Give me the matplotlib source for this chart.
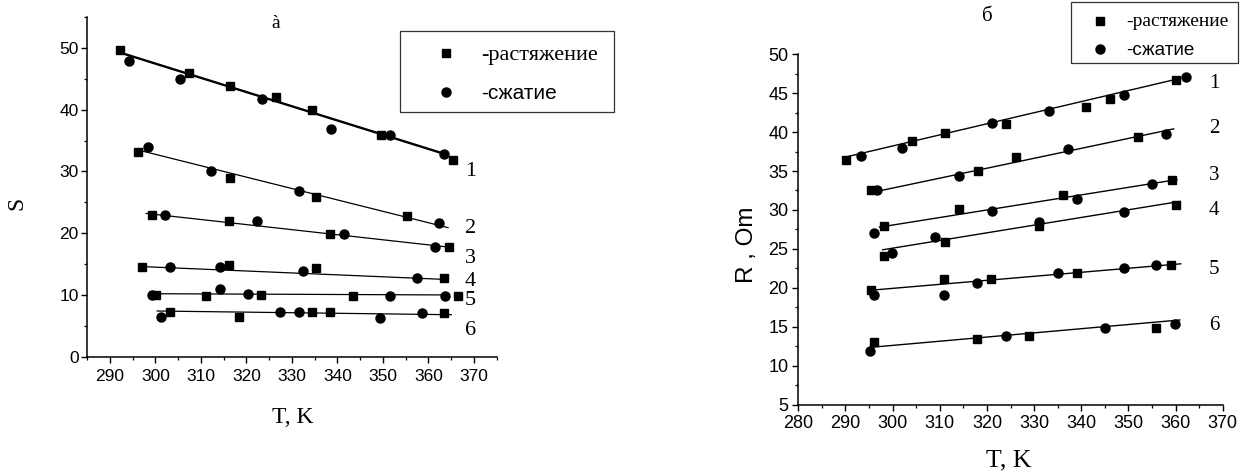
import numpy as np
import matplotlib
matplotlib.use('Agg')
from matplotlib import pyplot as plt
from matplotlib.ticker import MultipleLocator
from matplotlib.patches import Rectangle

SERIF = 'Liberation Serif'
SANS = 'Liberation Sans'

# ---- panel a: S vs T ----
a_sq_T = [[292.3, 307.4, 316.5, 326.5, 334.5, 349.6, 365.4],
          [296.2, 316.4, 335.3, 355.3],
          [299.2, 316.2, 338.4, 364.5],
          [297.1, 316.2, 335.3, 363.5],
          [300.1, 311.1, 323.2, 343.4, 366.5],
          [303.2, 318.3, 334.5, 338.3, 363.5]]
a_sq_S = [[49.6, 45.9, 43.9, 42.0, 39.9, 35.9, 31.9],
          [33.1, 28.9, 25.9, 22.8],
          [22.9, 21.9, 19.8, 17.8],
          [14.5, 14.9, 14.4, 12.8],
          [10.0, 9.8, 10.0, 9.8, 9.8],
          [7.3, 6.5, 7.2, 7.2, 7.1]]
a_ci_T = [[294.3, 305.4, 323.4, 338.5, 351.5, 363.4],
          [298.3, 312.2, 331.5, 362.4],
          [302.1, 322.4, 341.4, 361.5],
          [303.2, 314.3, 332.4, 357.4],
          [299.2, 314.3, 320.3, 351.5, 363.6],
          [301.2, 327.4, 331.5, 349.4, 358.6]]
a_ci_S = [[47.8, 44.9, 41.8, 36.9, 35.9, 32.9],
          [34.0, 30.1, 26.9, 21.7],
          [22.9, 21.9, 19.8, 17.8],
          [14.5, 14.5, 13.9, 12.8],
          [10.0, 10.9, 10.1, 9.9, 9.9],
          [6.5, 7.2, 7.2, 6.3, 7.1]]
# fitted lines (start T, end T, start S, end S)
a_fit_T0 = [292.0, 295.5, 298.0, 296.9, 299.9, 300.4]
a_fit_T1 = [364.1, 364.3, 365.0, 364.1, 364.5, 365.0]
a_fit_S0 = [49.3, 33.6, 23.2, 14.6, 10.2, 7.4]
a_fit_S1 = [32.7, 20.9, 17.7, 12.5, 10.0, 6.8]
a_lw = [1.7, 0.9, 0.9, 0.9, 0.9, 0.9]
a_num_S = [30.0, 20.8, 15.9, 12.1, 9.1, 4.2]

# ---- panel b: R vs T ----
b_sq_T = [[290.1, 304.1, 311.1, 324.1, 341.1, 346.1, 360.1],
          [295.4, 318.0, 326.2, 352.1],
          [298.1, 314.0, 336.1, 359.2],
          [298.1, 311.1, 331.1, 360.1],
          [295.4, 310.9, 320.9, 339.0, 359.0],
          [296.0, 317.9, 329.0, 355.9]]
b_sq_R = [[36.4, 38.9, 39.9, 41.0, 43.2, 44.2, 46.7],
          [32.5, 35.0, 36.8, 39.3],
          [28.0, 30.1, 31.9, 33.8],
          [24.1, 25.9, 27.9, 30.7],
          [19.7, 21.1, 21.1, 21.9, 22.9],
          [13.1, 13.5, 13.9, 14.9]]
b_ci_T = [[293.2, 302.0, 321.0, 333.2, 349.0, 362.1],
          [296.6, 314.0, 337.1, 358.0],
          [296.0, 321.0, 339.1, 355.0],
          [299.9, 309.0, 331.1, 349.0],
          [296.0, 310.9, 317.9, 335.0, 349.0, 355.9],
          [295.3, 324.0, 345.0, 359.8]]
b_ci_R = [[36.9, 37.9, 41.1, 42.7, 44.7, 47.1],
          [32.5, 34.4, 37.8, 39.8],
          [27.1, 29.9, 31.4, 33.3],
          [24.5, 26.6, 28.5, 29.8],
          [19.1, 19.1, 20.6, 21.9, 22.5, 22.9],
          [11.9, 13.9, 14.9, 15.4]]
b_fit_T0 = [290.1, 296.0, 297.2, 297.9, 295.1, 295.5]
b_fit_T1 = [361.1, 359.6, 360.3, 360.9, 361.1, 360.9]
b_fit_R0 = [36.8, 32.3, 27.8, 24.9, 19.7, 12.4]
b_fit_R1 = [46.9, 40.4, 33.9, 31.1, 23.1, 15.9]
b_num_R = [46.2, 40.4, 34.4, 29.9, 22.4, 15.2]

curve_names = ['1', '2', '3', '4', '5', '6']

fig = plt.figure(figsize=(12.4, 4.75), dpi=100)
ax1 = fig.add_axes([0.0702, 0.249, 0.3304, 0.7152])
ax2 = fig.add_axes([0.6438, 0.1474, 0.3423, 0.7389])

for ax in (ax1, ax2):
    for s in ('top', 'right'):
        ax.spines[s].set_visible(False)
    for s in ('left', 'bottom'):
        ax.spines[s].set_linewidth(1.1)
    ax.tick_params(which='major', direction='out', length=4, width=1.0)
    ax.tick_params(which='minor', direction='out', length=2.3, width=0.9)

# panel a
for i in range(6):
    ax1.plot([a_fit_T0[i], a_fit_T1[i]], [a_fit_S0[i], a_fit_S1[i]], color='black', lw=a_lw[i])
    ax1.plot(a_sq_T[i], a_sq_S[i], 's', color='black', ms=6, ls='none')
    ax1.plot(a_ci_T[i], a_ci_S[i], 'o', color='black', ms=6.5, ls='none')
    ax1.text(369.2, a_num_S[i], curve_names[i], family=SERIF, fontsize=16,
             ha='center', va='center', clip_on=False)
ax1.set_xlim(285, 375)
ax1.set_ylim(0, 55)
ax1.xaxis.set_major_locator(MultipleLocator(10))
ax1.xaxis.set_minor_locator(MultipleLocator(5))
ax1.yaxis.set_major_locator(MultipleLocator(10))
ax1.yaxis.set_minor_locator(MultipleLocator(5))
ax1.set_xticks(np.arange(290, 371, 10))
ax1.tick_params(axis='x', pad=5)
ax1.tick_params(axis='y', pad=2)
for lab in ax1.get_xticklabels() + ax1.get_yticklabels():
    lab.set_family(SANS)
    lab.set_fontsize(12.5)
ax1.text(-0.172, 0.45, 'S', transform=ax1.transAxes, rotation=90, family=SERIF,
         fontsize=17, ha='center', va='center')
ax1.text(0.503, -0.18, 'T, K', transform=ax1.transAxes, family=SERIF,
         fontsize=17, ha='center', va='center')
ax1.text(326.4, 53.9, 'à', family=SERIF, fontsize=14, ha='center', va='center')

# legend a
ax1.add_patch(Rectangle((0.764, 0.719), 0.521, 0.241, transform=ax1.transAxes,
                        fill=False, edgecolor='#333333', lw=0.9, clip_on=False))
ax1.plot([0.8755], [0.893], 's', color='black', ms=6, transform=ax1.transAxes, clip_on=False)
ax1.plot([0.8755], [0.780], 'o', color='black', ms=6.5, transform=ax1.transAxes, clip_on=False)
ax1.text(0.963, 0.888, '-растяжение', transform=ax1.transAxes, family=SERIF,
         fontsize=16, ha='left', va='center')
ax1.text(0.963, 0.775, '-сжатие', transform=ax1.transAxes, family=SANS,
         fontsize=15, ha='left', va='center')

# panel b
for i in range(6):
    ax2.plot([b_fit_T0[i], b_fit_T1[i]], [b_fit_R0[i], b_fit_R1[i]], color='black', lw=1.0)
    ax2.plot(b_sq_T[i], b_sq_R[i], 's', color='black', ms=6, ls='none')
    ax2.plot(b_ci_T[i], b_ci_R[i], 'o', color='black', ms=6.5, ls='none')
    ax2.text(368.2, b_num_R[i], curve_names[i], family=SERIF, fontsize=15,
             ha='center', va='center', clip_on=False)
ax2.set_xlim(280, 370)
ax2.set_ylim(5, 50)
ax2.xaxis.set_major_locator(MultipleLocator(10))
ax2.xaxis.set_minor_locator(MultipleLocator(5))
ax2.yaxis.set_major_locator(MultipleLocator(5))
ax2.yaxis.set_minor_locator(MultipleLocator(2.5))
ax2.tick_params(axis='x', pad=3)
ax2.tick_params(axis='y', pad=3)
for lab in ax2.get_xticklabels() + ax2.get_yticklabels():
    lab.set_family(SANS)
    lab.set_fontsize(13)
ax2.text(-0.1216, 0.456, 'R , Om', transform=ax2.transAxes, rotation=90, family=SANS,
         fontsize=17.5, ha='center', va='center')
ax2.text(0.4955, -0.157, 'T, K', transform=ax2.transAxes, family=SERIF,
         fontsize=18.5, ha='center', va='center')
ax2.text(320, 54.8, 'б', family=SERIF, fontsize=15, ha='center', va='center', clip_on=False)

# legend b
ax2.add_patch(Rectangle((0.642, 0.973), 0.394, 0.176, transform=ax2.transAxes,
                        fill=False, edgecolor='#333333', lw=0.9, clip_on=False))
ax2.plot([0.711], [1.095], 's', color='black', ms=6, transform=ax2.transAxes, clip_on=False)
ax2.plot([0.711], [1.013], 'o', color='black', ms=6.5, transform=ax2.transAxes, clip_on=False)
ax2.text(0.772, 1.092, '-растяжение', transform=ax2.transAxes, family=SERIF,
         fontsize=14, ha='left', va='center')
ax2.text(0.772, 1.010, '-сжатие', transform=ax2.transAxes, family=SANS,
         fontsize=13.5, ha='left', va='center')

fig.savefig('out.png', dpi=100)
